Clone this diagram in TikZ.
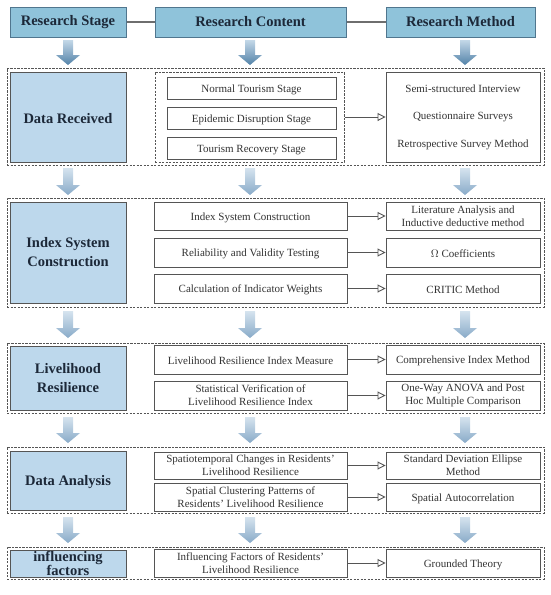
\documentclass[tikz,border=0pt]{standalone}
\usepackage{fontspec}
\setmainfont{Liberation Serif}
\usetikzlibrary{positioning, arrows.meta}
\definecolor{headblue}{RGB}{143,195,218}
\definecolor{headedge}{RGB}{80,118,142}
\definecolor{stageblue}{RGB}{189,216,236}
\definecolor{navy}{RGB}{28,40,56}
\definecolor{linegray}{RGB}{85,85,85}
\definecolor{arrowtop}{RGB}{196,216,232}
\definecolor{arrowdark}{RGB}{82,130,168}
\definecolor{arrowlight}{RGB}{136,170,200}
\tikzset{
    head/.style={draw=headedge, fill=headblue, line width=1pt, inner sep=0pt, text=navy,
        minimum height=30pt, font=\fontsize{14.5}{17}\selectfont\bfseries},
    stage/.style={draw=linegray, fill=stageblue, line width=1pt, inner sep=0pt, text=navy,
        minimum width=116pt, align=center, font=\fontsize{14.5}{19}\selectfont\bfseries,
        execute at begin node={\rule{0pt}{13pt}}},
    item/.style={draw=linegray, fill=white, line width=0.9pt, inner sep=0pt, text=black!80,
        align=center, font=\fontsize{11}{13}\selectfont,
        execute at begin node={\rule{0pt}{11pt}}},
    content/.style={item, minimum width=193pt},
    method/.style={item, minimum width=154pt},
    section/.style={draw=linegray, line width=1pt, dash pattern=on 2.2pt off 1.3pt,
        inner sep=0pt, minimum width=537pt},
    link/.style={draw=linegray, line width=0.9pt, -{Triangle[open,length=8pt,width=8pt]}},
    toparrow/.style={top color=arrowtop, bottom color=arrowdark},
    lowarrow/.style={top color=arrowtop!70!white, bottom color=arrowlight},
}
\newcommand{\blockarrow}[4]{%
    \shade[#1] ({#2-5},#3) -- ({#2+5},#3) -- ({#2+5},{#4-10}) -- ({#2+12},{#4-10})
        -- (#2,#4) -- ({#2-12},{#4-10}) -- ({#2-5},{#4-10}) -- cycle;}

\begin{document}
\begin{tikzpicture}[x=1pt, y=-1pt]
            \useasboundingbox (0,0) rectangle (550,595);
            \node[head, minimum width=116pt] (hstage) at (68,22) {Research Stage};
            \node[head, minimum width=191pt] (hcontent) at (250.5,22) {Research Content};
            \node[head, minimum width=149pt] (hmethod) at (460.5,22) {Research Method};
            \draw[linegray!85, line width=1.2pt] (hstage) -- (hcontent);
            \draw[linegray!85, line width=1.2pt] (hcontent) -- (hmethod);
            \foreach \x in {68,250,465}{%
                    \blockarrow{toparrow}{\x}{40}{65}
                }
            \foreach \ya/\yb in {168/195,311/338,417/443,517/543}{%
                    \foreach \x in {68,250,465}{%
                            \blockarrow{lowarrow}{\x}{\ya}{\yb}
                        }
                }
            \node[section, minimum height=97pt] (sec1) at (275.5,116.5) {};
            \node[section, minimum height=109pt] (sec2) at (275.5,252.5) {};
            \node[section, minimum height=70pt] (sec3) at (275.5,378) {};
            \node[section, minimum height=66pt] (sec4) at (275.5,480) {};
            \node[section, minimum height=32pt] (sec5) at (275.5,563) {};
            \node[stage, minimum height=90pt] (st1) at (68,117) {Data Received};
            \node[stage, minimum height=101pt] (st2) at (68,252.5) {Index System\\Construction};
            \node[stage, minimum height=64pt] (st3) at (68,378) {Livelihood\\Resilience};
            \node[stage, minimum height=59pt] (st4) at (68,480.5) {Data Analysis};
            \node[stage, minimum height=27pt, font=\fontsize{14.5}{14.5}\selectfont\bfseries,
                execute at begin node={\rule{0pt}{11pt}}] (st5) at (68,563.5) {influencing\\factors};
            \node[section, minimum width=189pt, minimum height=90pt] (cont1) at (249.5,117) {};
            \node[item, minimum width=169pt, minimum height=22pt] (c11) at (251.5,88) {Normal Tourism Stage};
            \node[item, minimum width=169pt, minimum height=22pt] (c12) at (251.5,118) {Epidemic Disruption Stage};
            \node[item, minimum width=169pt, minimum height=22pt] (c13) at (251.5,148) {Tourism Recovery Stage};
            \node[method, minimum height=90pt, font=\fontsize{11}{27.5}\selectfont] (m1) at (463,117)
                {Semi-structured Interview\\Questionnaire Surveys\\Retrospective Survey Method};
            \draw[link] (cont1) -- (m1);
            \node[content, minimum height=28pt] (c21) at (250.5,216) {Index System Construction};
            \node[content, minimum height=29pt] (c22) at (250.5,252.5) {Reliability and Validity Testing};
            \node[content, minimum height=29pt] (c23) at (250.5,288.5) {Calculation of Indicator Weights};
            \node[method, minimum height=28pt] (m21) at (463,216) {Literature Analysis and\\Inductive deductive method};
            \node[method, minimum height=29pt] (m22) at (463,252.5) {$\Omega$ Coefficients};
            \node[method, minimum height=29pt] (m23) at (463,288.5) {CRITIC Method};
            \node[content, minimum height=29pt] (c31) at (250.5,359.5) {Livelihood Resilience Index Measure};
            \node[content, minimum height=29pt] (c32) at (250.5,395.5) {Statistical Verification of\\Livelihood Resilience Index};
            \node[method, minimum height=29pt] (m31) at (463,359.5) {Comprehensive Index Method};
            \node[method, minimum height=29pt] (m32) at (463,395.5) {One-Way ANOVA and Post\\Hoc Multiple Comparison};
            \node[content, minimum height=27pt] (c41) at (250.5,465.5) {Spatiotemporal Changes in Residents'\\Livelihood Resilience};
            \node[content, minimum height=28pt] (c42) at (250.5,497) {Spatial Clustering Patterns of\\Residents' Livelihood Resilience};
            \node[method, minimum height=27pt] (m41) at (463,465.5) {Standard Deviation Ellipse\\Method};
            \node[method, minimum height=28pt] (m42) at (463,497) {Spatial Autocorrelation};
            \node[content, minimum height=28pt] (c51) at (250.5,563) {Influencing Factors of Residents'\\Livelihood Resilience};
            \node[method, minimum height=28pt] (m51) at (463,563) {Grounded Theory};
            \foreach \n in {21,22,23,31,32,41,42,51}{%
                    \draw[link] (c\n) -- (m\n);
                }
        \end{tikzpicture}
\end{document}
